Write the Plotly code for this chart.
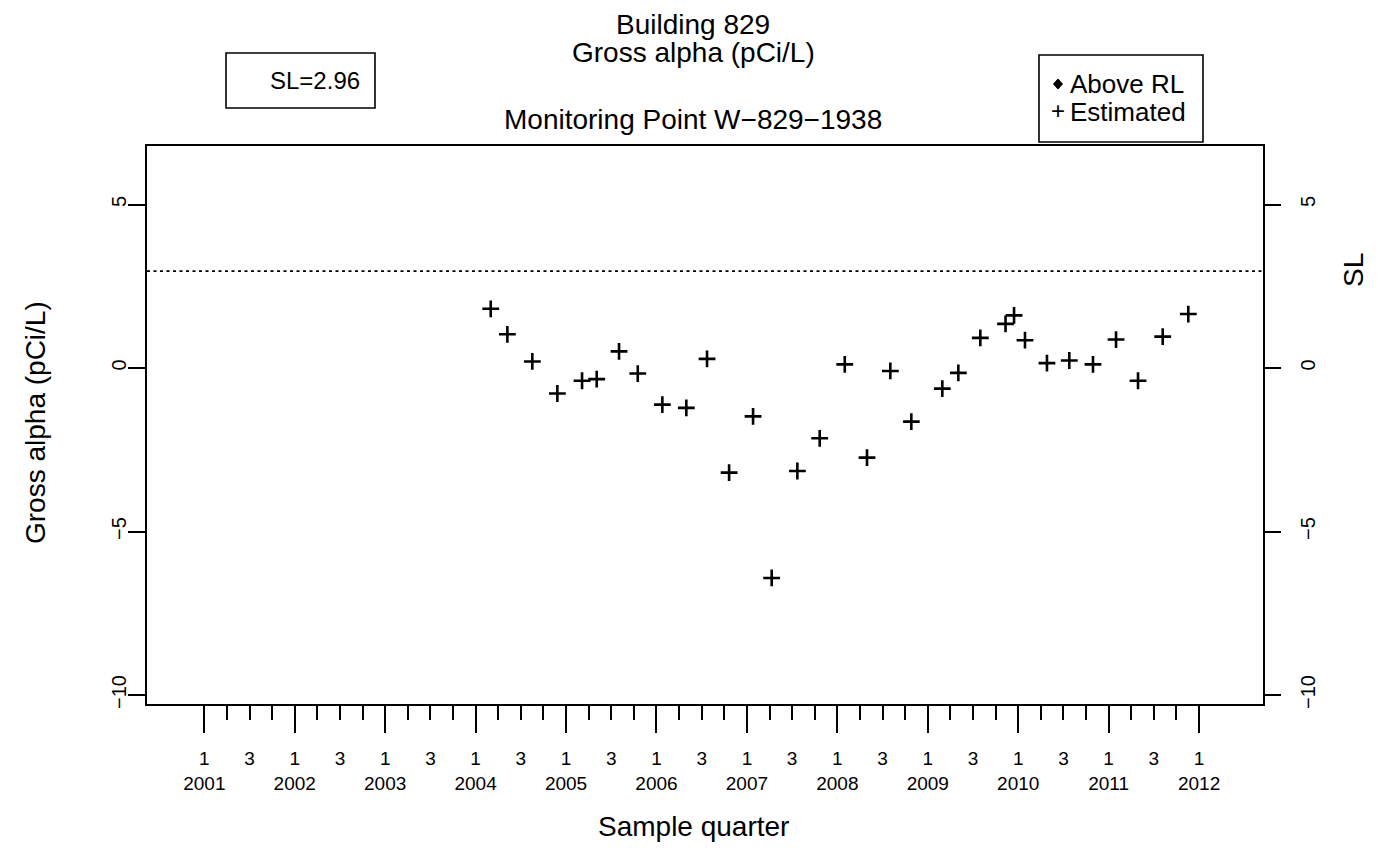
import plotly.graph_objects as go

# ---------------- data ----------------
sample_dates = [2004.167, 2004.351, 2004.627, 2004.904, 2005.177, 2005.339, 2005.586,
                2005.793, 2006.065, 2006.330, 2006.559, 2006.803, 2007.068, 2007.274,
                2007.558, 2007.805, 2008.082, 2008.328, 2008.586, 2008.818, 2009.161,
                2009.338, 2009.581, 2009.860, 2009.954, 2010.075, 2010.318, 2010.565,
                2010.827, 2011.082, 2011.325, 2011.598, 2011.881]
gross_alpha = [1.81, 1.03, 0.20, -0.78, -0.39, -0.34, 0.51,
               -0.17, -1.12, -1.22, 0.28, -3.20, -1.48, -6.42,
               -3.15, -2.15, 0.11, -2.74, -0.09, -1.64, -0.63,
               -0.15, 0.92, 1.35, 1.61, 0.85, 0.15, 0.23,
               0.11, 0.87, -0.39, 0.96, 1.65]
SL = 2.96
years = list(range(2001, 2013))
y_ticks = [-10, -5, 0, 5]
legend_labels = ["Above RL", "Estimated"]

# ---------------- layout geometry ----------------
OFF = 8                      # page body margin of the html page
FIG_W, FIG_H = 1369, 834
ML, MT = 139, 138
PW, PH = 1116, 558
MR = FIG_W - ML - PW
MB = FIG_H - MT - PH
X_RANGE = [2000.366, 2012.707]
Y_RANGE = [-10.275, 6.789]


def xp(px):
    """screen pixel x -> paper coordinate"""
    return (px - OFF - ML) / PW


def yp(py):
    """screen pixel y -> paper coordinate"""
    return (MT + PH - (py - OFF)) / PH


q1 = [float(y) for y in years]
q3 = [y + 0.5 for y in years[:-1]]
q2q4 = [y + 0.25 for y in years[:-1]] + [y + 0.75 for y in years[:-1]]
label_vals = sorted(q1 + q3)
label_text = [("1<br>%d" % int(v)) if v in q1 else "3" for v in label_vals]

FONT = "Liberation Sans, Arial, Helvetica, sans-serif"

fig = go.Figure()
fig.add_trace(go.Scatter(
    x=sample_dates, y=gross_alpha, mode="markers",
    marker=dict(symbol="cross-thin", size=12, color="black",
                line=dict(color="black", width=2.6)),
    showlegend=False, name="Estimated"))
# helper traces so overlay axes are drawn
fig.add_trace(go.Scatter(x=[None], y=[None], xaxis="x2", yaxis="y",
                         showlegend=False, hoverinfo="skip"))
fig.add_trace(go.Scatter(x=[None], y=[None], xaxis="x", yaxis="y2",
                         showlegend=False, hoverinfo="skip"))

axis_common = dict(showgrid=False, zeroline=False, tickcolor="black",
                   linecolor="black")

fig.update_layout(
    width=FIG_W, height=FIG_H,
    margin=dict(l=ML, r=MR, t=MT, b=MB, pad=0),
    paper_bgcolor="white", plot_bgcolor="white",
    font=dict(family=FONT, color="black"),
    xaxis=dict(range=X_RANGE, tickmode="array", tickvals=label_vals, ticktext=label_text,
               ticks="outside", ticklen=14, tickwidth=2, ticklabelstandoff=22,
               tickfont=dict(size=19), showline=True, linewidth=2, mirror=True,
               minor=dict(tickmode="array", tickvals=q2q4, ticks="outside",
                          ticklen=14, tickwidth=2, tickcolor="black"),
               automargin=False, **axis_common),
    xaxis2=dict(range=X_RANGE, overlaying="x", anchor="y", side="bottom",
                tickmode="array", tickvals=q1, ticks="outside", ticklen=28,
                tickwidth=2.4, showticklabels=False, showline=False,
                automargin=False, **axis_common),
    yaxis=dict(range=Y_RANGE, tickmode="array", tickvals=y_ticks, ticks="outside",
               ticklen=17, tickwidth=2, tickangle=-90, tickfont=dict(size=20),
               showline=True, linewidth=2, mirror=True, automargin=False,
               ticklabelstandoff=-6, **axis_common),
    yaxis2=dict(range=Y_RANGE, overlaying="y", anchor="x", side="right",
                tickmode="array", tickvals=y_ticks, ticks="outside", ticklen=17,
                tickwidth=2, tickangle=-90, tickfont=dict(size=20), showline=False,
                automargin=False, ticklabelstandoff=10, **axis_common),
)

# SL reference line
fig.add_shape(type="line", xref="paper", yref="y", x0=0, x1=1, y0=SL, y1=SL,
              line=dict(color="black", width=1.8, dash="3px,3.5px"))

# titles
anns = [
    dict(text="Building 829", x=xp(693), y=yp(24), size=28),
    dict(text="Gross alpha (pCi/L)", x=xp(693), y=yp(52), size=28),
    dict(text="Monitoring Point W\u2212829\u22121938", x=xp(693), y=yp(119), size=28),
    dict(text="Sample quarter", x=xp(693), y=yp(826), size=28),
]
for a in anns:
    fig.add_annotation(text=a["text"], xref="paper", yref="paper", x=a["x"], y=a["y"],
                       xanchor="center", yanchor="middle", showarrow=False,
                       font=dict(size=a["size"], family=FONT, color="black"))

fig.add_annotation(text="Gross alpha (pCi/L)", xref="paper", yref="paper",
                   x=xp(35), y=yp(423), textangle=-90, xanchor="center", yanchor="middle",
                   showarrow=False, font=dict(size=28, family=FONT, color="black"))
fig.add_annotation(text="SL", xref="paper", yref="paper",
                   x=xp(1353), y=yp(270), textangle=-90, xanchor="center", yanchor="middle",
                   showarrow=False, font=dict(size=28, family=FONT, color="black"))

# SL box
fig.add_shape(type="rect", xref="paper", yref="paper", x0=xp(226), x1=xp(375),
              y0=yp(108), y1=yp(53), line=dict(color="black", width=1.6))
fig.add_annotation(text="SL=%.2f" % SL, xref="paper", yref="paper", x=xp(362), y=yp(80),
                   xanchor="right", yanchor="middle", showarrow=False,
                   font=dict(size=24, family=FONT, color="black"))

# legend box
fig.add_shape(type="rect", xref="paper", yref="paper", x0=xp(1039), x1=xp(1203),
              y0=yp(142), y1=yp(55), line=dict(color="black", width=1.6))
fig.add_shape(type="path", xref="paper", yref="paper", xsizemode="pixel", ysizemode="pixel",
              xanchor=xp(1058), yanchor=yp(84), path="M -4.5 0 L 0 5 L 4.5 0 L 0 -5 Z",
              fillcolor="black", line=dict(color="black", width=1))
fig.add_annotation(text="+", xref="paper", yref="paper", x=xp(1058), y=yp(111),
                   xanchor="center", yanchor="middle", showarrow=False,
                   font=dict(size=24, family=FONT, color="black"))
for lbl, cy in zip(legend_labels, [84, 112]):
    fig.add_annotation(text=lbl, xref="paper", yref="paper", x=xp(1068), y=yp(cy),
                       xanchor="left", yanchor="middle", showarrow=False,
                       font=dict(size=26, family=FONT, color="black"))

fig.write_html("out.html")
